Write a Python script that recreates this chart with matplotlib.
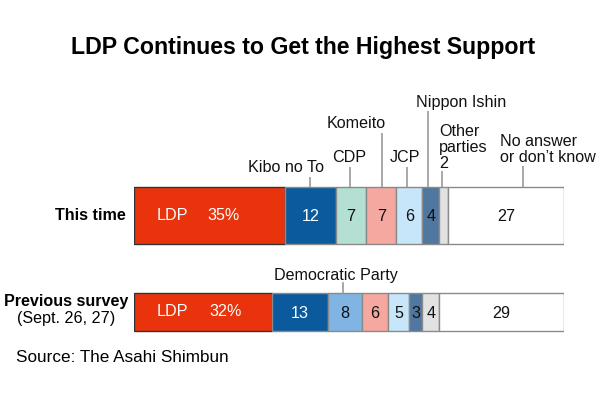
"""
Stacked bar chart: party support, this time vs previous survey.
"""
import numpy as np
import matplotlib
matplotlib.use("Agg")
from matplotlib import pyplot as plt

plt.rcParams["font.family"] = ["Liberation Sans", "DejaVu Sans"]

# Data
this_time = [35, 12, 7, 7, 6, 4, 2, 27]
this_colors = ["#e8330c", "#0b5a9d", "#b4e0d4", "#f4a8a0", "#c8e6fa",
               "#50779f", "#e2e2e2", "#ffffff"]
this_names = ["LDP", "Kibo no To", "CDP", "Komeito", "JCP", "Nippon Ishin",
              "Other\nparties\n2", "No answer\nor don\u2019t know"]

previous = [32, 13, 8, 6, 5, 3, 4, 29]
prev_colors = ["#e8330c", "#0b5a9d", "#80b4e2", "#f4a8a0", "#c8e6fa",
               "#50779f", "#e2e2e2", "#ffffff"]

rows = ["This time", "Previous survey"]

# Layout (pixel units of a 600x399 canvas)
X0, X1 = 134, 564
PXU = (X1 - X0) / 100.0


def px(x):
    return (x - X0) / PXU


fig = plt.figure(figsize=(6, 3.99), dpi=100)
ax = fig.add_axes([X0 / 600, 0, (X1 - X0) / 600, 1])
ax.set_xlim(0, 100)
ax.set_ylim(399, 0)
ax.set_axis_off()

FS = 11.6


def draw_row(values, colors, yc, h):
    lefts = np.concatenate([[0], np.cumsum(values)[:-1]])
    bars = ax.barh(yc, values, left=lefts, height=h, color=colors,
                   edgecolor="#8a8a8a", linewidth=1)
    # dark border on the LDP block
    bars[0].set_edgecolor("#333333")
    return lefts


# This time
Y1, H1 = 215.5, 57
lefts1 = draw_row(this_time, this_colors, Y1, H1)
ax.text(px(172), Y1, "LDP", ha="center", va="center", color="white", fontsize=FS)
ax.text(px(224), Y1, f"{this_time[0]}%", ha="center", va="center",
        color="white", fontsize=FS)
for i in range(1, len(this_time)):
    if i == 6:
        continue
    c = "white" if i == 1 else "#111111"
    ax.text(lefts1[i] + this_time[i] / 2, Y1 + 1, str(this_time[i]),
            ha="center", va="center", color=c, fontsize=FS)

# callouts above the bar: (index, text x, ha, last baseline, line x, line top)
callouts = [
    (1, 286, "center", 172, 310, 177),
    (2, 349, "center", 162, 350, 167),
    (3, 356, "center", 128, 382, 133),
    (4, 405, "center", 162, 407, 167),
    (5, 416, "left", 107, 428, 111),
    (6, 439, "left", 168, 442, 171),
    (7, 500, "left", 162, 523, 166),
]
top1 = Y1 - H1 / 2
for idx, tx, ha, base, lx, ltop in callouts:
    lines = this_names[idx].split("\n")
    for k, line in enumerate(reversed(lines)):
        ax.text(px(tx), base - k * 16, line, ha=ha, va="baseline",
                fontsize=FS, color="#111111")
    ax.plot([px(lx), px(lx)], [ltop, top1], color="#999999", lw=1.2,
            solid_capstyle="butt")

# Previous survey
Y2, H2 = 312, 38
lefts2 = draw_row(previous, prev_colors, Y2, H2)
ax.text(px(172), Y2, "LDP", ha="center", va="center", color="white", fontsize=FS)
ax.text(px(226), Y2, f"{previous[0]}%", ha="center", va="center",
        color="white", fontsize=FS)
for i in range(1, len(previous)):
    c = "white" if i == 1 else "#111111"
    ax.text(lefts2[i] + previous[i] / 2, Y2 + 1, str(previous[i]),
            ha="center", va="center", color=c, fontsize=FS)
ax.text(px(336), 280, "Democratic Party", ha="center", va="baseline",
        fontsize=FS, color="#111111")
ax.plot([px(343), px(343)], [283, Y2 - H2 / 2], color="#999999", lw=1.2)

# Row labels
ax.text(px(126), Y1, rows[0], ha="right", va="center", fontsize=FS,
        fontweight="bold")
ax.text(px(66), 306, rows[1], ha="center", va="baseline", fontsize=FS,
        fontweight="bold")
ax.text(px(66), 323, "(Sept. 26, 27)", ha="center", va="baseline", fontsize=FS)

# Title and source
ax.text(px(303), 54, "LDP Continues to Get the Highest Support", ha="center",
        va="baseline", fontsize=16.7, fontweight="bold")
ax.text(px(16), 362, "Source: The Asahi Shimbun", ha="left", va="baseline",
        fontsize=12.3)

fig.savefig("out.png", dpi=100, facecolor="white")
